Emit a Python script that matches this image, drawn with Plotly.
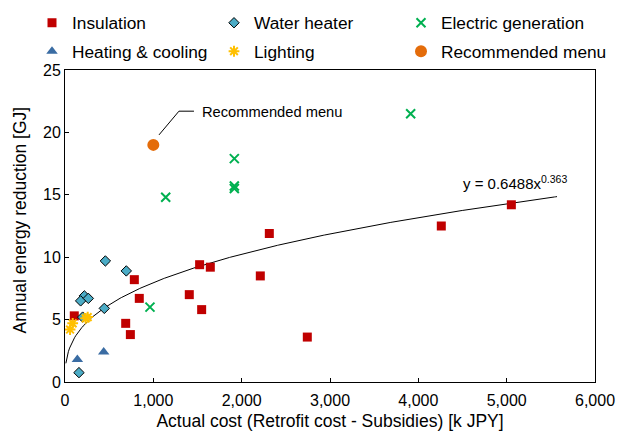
import numpy as np
import plotly.graph_objects as go

# ---- data (k JPY, GJ) ----
insul_x = [105, 785, 841, 687, 740, 1407, 1524, 1645, 1547, 2313, 2211, 2743, 4260, 5053]
insul_y = [5.3, 8.2, 6.7, 4.7, 3.8, 7.0, 9.4, 9.2, 5.8, 11.9, 8.5, 3.6, 12.5, 14.2]
water_x = [457, 694, 219, 177, 264, 445, 200, 158]
water_y = [9.7, 8.9, 6.9, 6.5, 6.7, 5.9, 5.2, 0.75]
elec_x = [962, 1140, 1917, 1917, 1917, 3913]
elec_y = [6.0, 14.8, 17.9, 15.7, 15.5, 21.5]
heat_x = [140, 438]
heat_y = [1.8, 2.4]
light_x = [57, 87, 234, 257]
light_y = [4.2, 4.7, 5.1, 5.2]
rec_x = [1000]
rec_y = [19.0]

fit_a = 0.6488
fit_b = 0.363
fit_x_min, fit_x_max = 10, 5570

x_ticks = [0, 1000, 2000, 3000, 4000, 5000, 6000]
y_ticks = [0, 5, 10, 15, 20, 25]

FONT = "Liberation Sans, Arial, sans-serif"
W, H = 618, 434
ML, MR, MT, MB = 65, 23, 70, 52
PW, PH = W - ML - MR, H - MT - MB

fig = go.Figure()

fx = np.linspace(fit_x_min, fit_x_max, 400)
fy = fit_a * fx ** fit_b
fig.add_trace(go.Scatter(x=fx, y=fy, mode="lines", line=dict(color="black", width=1),
                         showlegend=False, hoverinfo="skip"))

def add(name, xs, ys, marker, legend, group):
    fig.add_trace(go.Scatter(x=xs, y=ys, mode="markers", name=name, marker=marker,
                             legend=legend, legendgroup=group))

add("Insulation", insul_x, insul_y,
    dict(symbol="square", size=9, color="#C00000", line=dict(width=0)), "legend", "a")
add("Heating & cooling", heat_x, heat_y,
    dict(symbol="triangle-up", size=10, color="#3A6CA3", line=dict(width=0)), "legend", "b")
add("Water heater", water_x, water_y,
    dict(symbol="diamond", size=8, color="#4BACC6", line=dict(width=1, color="black")), "legend2", "c")
add("Lighting", light_x, light_y,
    dict(symbol="asterisk-open", size=9, color="#FFC000", line=dict(width=2, color="#FFC000")), "legend2", "d")
add("Electric generation", elec_x, elec_y,
    dict(symbol="x-thin-open", size=9, color="#00B050", line=dict(width=2, color="#00B050")), "legend3", "e")
add("Recommended menu", rec_x, rec_y,
    dict(symbol="circle", size=12, color="#E46C0A", line=dict(width=0)), "legend3", "f")

def lg(left_px):
    return dict(xref="container", yref="container", x=left_px / W, xanchor="left",
                y=1 - 5 / H, yanchor="top", orientation="v", tracegroupgap=3,
                font=dict(family=FONT, size=17.3, color="black"), bgcolor="rgba(0,0,0,0)",
                itemwidth=30)

fig.update_layout(
    width=W, height=H,
    margin=dict(l=ML, r=MR, t=MT, b=MB, autoexpand=False),
    paper_bgcolor="white", plot_bgcolor="white",
    font=dict(family=FONT, size=16, color="black"),
    legend=lg(32), legend2=lg(214), legend3=lg(401),
    xaxis=dict(range=[0, 6000], tickvals=x_ticks, tickformat=",", showgrid=False, zeroline=False,
               showline=True, linecolor="black", linewidth=1, mirror=True,
               ticks="inside", ticklen=4, tickcolor="black",
               tickfont=dict(size=16), automargin=False, ticklabelstandoff=4,
               title=dict(text="Actual cost (Retrofit cost - Subsidies) [k JPY]",
                          font=dict(size=17.5), standoff=6)),
    yaxis=dict(range=[0, 25], tickvals=y_ticks, showgrid=False, zeroline=False,
               showline=True, linecolor="black", linewidth=1, mirror=True,
               ticks="inside", ticklen=4, tickcolor="black",
               tickfont=dict(size=16), automargin=False, ticksuffix="  "),
    showlegend=True,
)

fig.add_annotation(xref="paper", yref="paper", x=(19.5 - ML) / PW, y=(H - MB - 220) / PH,
                   xanchor="center", yanchor="middle", textangle=-90,
                   text="Annual energy reduction [GJ]", showarrow=False,
                   font=dict(family=FONT, size=17.5, color="black"))

fig.add_shape(type="path", xref="x", yref="y",
              path="M 1064,19.8 L 1290,21.7 L 1460,21.7", line=dict(color="black", width=1))
fig.add_annotation(x=1530, y=21.65, xref="x", yref="y", xanchor="left", yanchor="middle",
                   text="Recommended menu", showarrow=False,
                   font=dict(family=FONT, size=14.7, color="black"))
fig.add_annotation(x=4480, y=16.0, xref="x", yref="y", xanchor="left", yanchor="middle",
                   text="y = 0.6488x<sup>0.363</sup>", showarrow=False,
                   font=dict(family=FONT, size=15, color="black"))

fig.write_html("out.html")
